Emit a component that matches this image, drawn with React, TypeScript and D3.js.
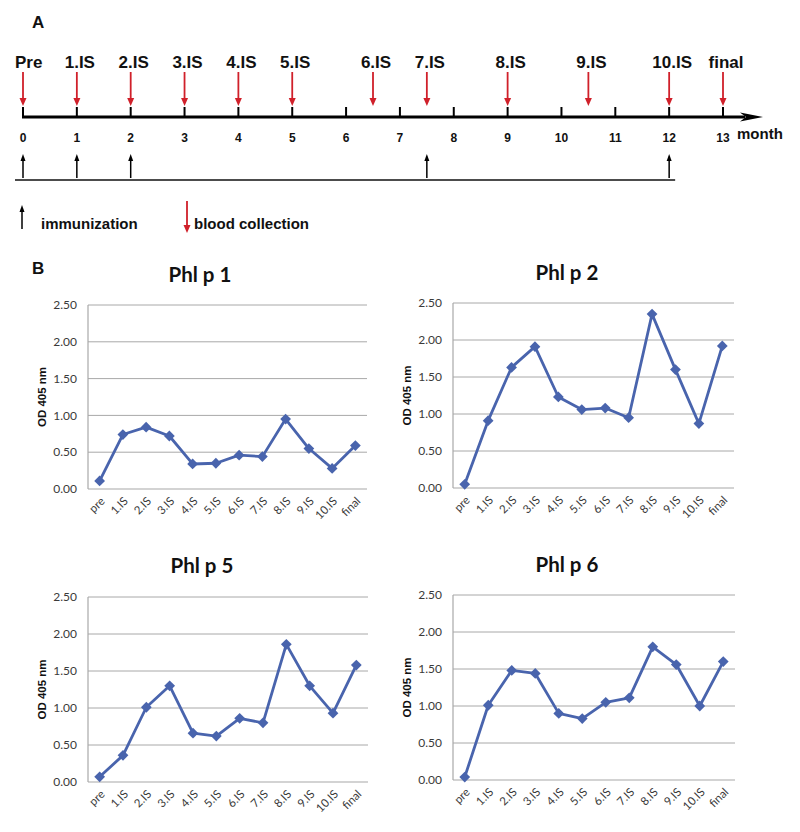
import React from 'react';
import * as d3 from 'd3';

const CATEGORIES = ['pre', '1.IS', '2.IS', '3.IS', '4.IS', '5.IS', '6.IS', '7.IS', '8.IS', '9.IS', '10.IS', 'final'];
const PHL_P1 = [0.11, 0.74, 0.84, 0.72, 0.34, 0.35, 0.46, 0.44, 0.95, 0.55, 0.28, 0.59];
const PHL_P2 = [0.05, 0.91, 1.63, 1.91, 1.23, 1.06, 1.08, 0.95, 2.35, 1.60, 0.87, 1.92];
const PHL_P5 = [0.07, 0.36, 1.01, 1.30, 0.66, 0.62, 0.86, 0.80, 1.86, 1.30, 0.93, 1.58];
const PHL_P6 = [0.04, 1.01, 1.48, 1.44, 0.90, 0.83, 1.05, 1.11, 1.80, 1.56, 1.00, 1.60];
const Y_TICKS = [0, 0.5, 1, 1.5, 2, 2.5];

const MONTH_TICKS = [0, 1, 2, 3, 4, 5, 6, 7, 8, 9, 10, 11, 12, 13];
const BLOOD_LABELS = ['Pre', '1.IS', '2.IS', '3.IS', '4.IS', '5.IS', '6.IS', '7.IS', '8.IS', '9.IS', '10.IS', 'final'];
const BLOOD_MONTHS = [0, 1, 2, 3, 4, 5, 6.5, 7.5, 9, 10.5, 12, 13];
const IMMUNIZATION_MONTHS = [0, 1, 2, 7.5, 12];

const LINE_COLOR = '#4964ad';
const RED = '#d0202a';
const GRID = '#a8a8a8';
const ARIAL = '"Liberation Sans", Arial, sans-serif';
const CALIBRI = 'Lato, "Open Sans", sans-serif';

type Panel = { title: string; values: number[]; x0: number; x1: number; yTop: number; yBot: number; tx: number; ty: number };

const PANELS: Panel[] = [
  { title: 'Phl p 1', values: PHL_P1, x0: 88, x1: 367, yTop: 305, yBot: 489, tx: 200, ty: 282 },
  { title: 'Phl p 2', values: PHL_P2, x0: 453, x1: 734, yTop: 303, yBot: 488, tx: 567, ty: 280 },
  { title: 'Phl p 5', values: PHL_P5, x0: 88, x1: 368, yTop: 597, yBot: 782, tx: 202, ty: 573 },
  { title: 'Phl p 6', values: PHL_P6, x0: 453, x1: 735, yTop: 595, yBot: 780, tx: 567, ty: 572 },
];

function LineChart({ p }: { p: Panel }) {
  const x = d3.scaleBand<string>().domain(CATEGORIES).range([p.x0, p.x1]);
  const y = d3.scaleLinear().domain([0, 2.5]).range([p.yBot, p.yTop]);
  const cx = (c: string) => (x(c) as number) + x.bandwidth() / 2;
  const line = d3.line<number>().x((_, i) => cx(CATEGORIES[i])).y((v) => y(v));
  const sym = d3.symbol().type(d3.symbolSquare).size(58)() as string;
  const midY = (p.yTop + p.yBot) / 2;
  return (
    <g>
      <text x={p.tx} y={p.ty} textAnchor="middle" fontFamily={CALIBRI} fontWeight={700} fontSize={20.5} fill="#111">{p.title}</text>
      {Y_TICKS.map((t) => (
        <g key={t}>
          {t > 0 && <line x1={p.x0} x2={p.x1} y1={y(t)} y2={y(t)} stroke={GRID} strokeWidth={1} />}
          <text x={p.x0 - 11} y={y(t)} dy="0.35em" textAnchor="end" fontFamily={CALIBRI} fontSize={12} fill="#3a3a3a">{t.toFixed(2)}</text>
        </g>
      ))}
      <line x1={p.x0} x2={p.x1} y1={p.yBot} y2={p.yBot} stroke={GRID} strokeWidth={1.2} />
      <line x1={p.x0} x2={p.x0} y1={p.yTop} y2={p.yBot} stroke={GRID} strokeWidth={1.2} />
      <text transform={`translate(${p.x0 - 42},${midY}) rotate(-90)`} textAnchor="middle" fontFamily={ARIAL} fontWeight={700} fontSize={11.5} fill="#111">OD 405 nm</text>
      {CATEGORIES.map((c) => (
        <text key={c} transform={`translate(${cx(c) + 3},${p.yBot + 10}) rotate(-45)`} textAnchor="end" dy="0.35em" fontFamily={CALIBRI} fontSize={11.5} fill="#3a3a3a">{c}</text>
      ))}
      <path d={line(p.values) as string} fill="none" stroke={LINE_COLOR} strokeWidth={2.8} strokeLinejoin="round" />
      {p.values.map((v, i) => (
        <path key={i} d={sym} transform={`translate(${cx(CATEGORIES[i])},${y(v)}) rotate(45)`} fill={LINE_COLOR} />
      ))}
    </g>
  );
}

function Timeline() {
  const mx = d3.scaleLinear().domain([0, 13]).range([23, 723]);
  const axisY = 117;
  return (
    <g>
      <text x={32} y={28} fontFamily={ARIAL} fontWeight={700} fontSize={17} fill="#111">A</text>
      <line x1={mx(0) - 1} x2={745} y1={axisY} y2={axisY} stroke="#000" strokeWidth={3} />
      <path d={`M${763},${axisY} L${740},${axisY - 4.5} L${746},${axisY} L${740},${axisY + 4.5} Z`} fill="#000" />
      {MONTH_TICKS.map((m) => (
        <g key={m}>
          <line x1={mx(m)} x2={mx(m)} y1={axisY - 10} y2={axisY} stroke="#000" strokeWidth={2} />
          <text x={mx(m)} y={142} textAnchor="middle" fontFamily={ARIAL} fontWeight={700} fontSize={12} fill="#111">{m}</text>
        </g>
      ))}
      <text x={737} y={139} fontFamily={ARIAL} fontWeight={700} fontSize={15} fill="#111">month</text>
      {BLOOD_MONTHS.map((m, i) => {
        const ax = mx(m);
        return (
          <g key={i}>
            <line x1={ax} x2={ax} y1={72} y2={100} stroke={RED} strokeWidth={1.8} />
            <path d={`M${ax - 3.5},${98} L${ax + 3.5},${98} L${ax},${106} Z`} fill={RED} />
            <text x={i === 0 ? 15 : ax + 3} y={68} textAnchor={i === 0 ? 'start' : 'middle'} fontFamily={ARIAL} fontWeight={700} fontSize={17} fill="#111">{BLOOD_LABELS[i]}</text>
          </g>
        );
      })}
      <line x1={15} x2={mx(12) + 6} y1={180} y2={180} stroke="#111" strokeWidth={1.3} />
      {IMMUNIZATION_MONTHS.map((m, i) => {
        const ax = mx(m);
        return (
          <g key={i}>
            <line x1={ax} x2={ax} y1={160} y2={178} stroke="#000" strokeWidth={1.5} />
            <path d={`M${ax - 2.5},${161} L${ax + 2.5},${161} L${ax},${154} Z`} fill="#000" />
          </g>
        );
      })}
      <line x1={22} x2={22} y1={211} y2={229} stroke="#000" strokeWidth={1.5} />
      <path d={`M${19.5},${212} L${24.5},${212} L${22},${205} Z`} fill="#000" />
      <text x={41} y={229} fontFamily={ARIAL} fontWeight={700} fontSize={15} fill="#111">immunization</text>
      <line x1={187} x2={187} y1={201} y2={226} stroke={RED} strokeWidth={1.8} />
      <path d={`M${183.5},${225} L${190.5},${225} L${187},${233} Z`} fill={RED} />
      <text x={194} y={229} fontFamily={ARIAL} fontWeight={700} fontSize={15} fill="#111">blood collection</text>
    </g>
  );
}

export default function App() {
  return (
    <svg width={800} height={832} style={{ position: 'absolute', left: 0, top: 0, background: '#fff' }}>
      <rect width={800} height={832} fill="#fff" />
      <Timeline />
      <text x={32} y={274} fontFamily={ARIAL} fontWeight={700} fontSize={17} fill="#111">B</text>
      {PANELS.map((p) => (
        <LineChart key={p.title} p={p} />
      ))}
    </svg>
  );
}
